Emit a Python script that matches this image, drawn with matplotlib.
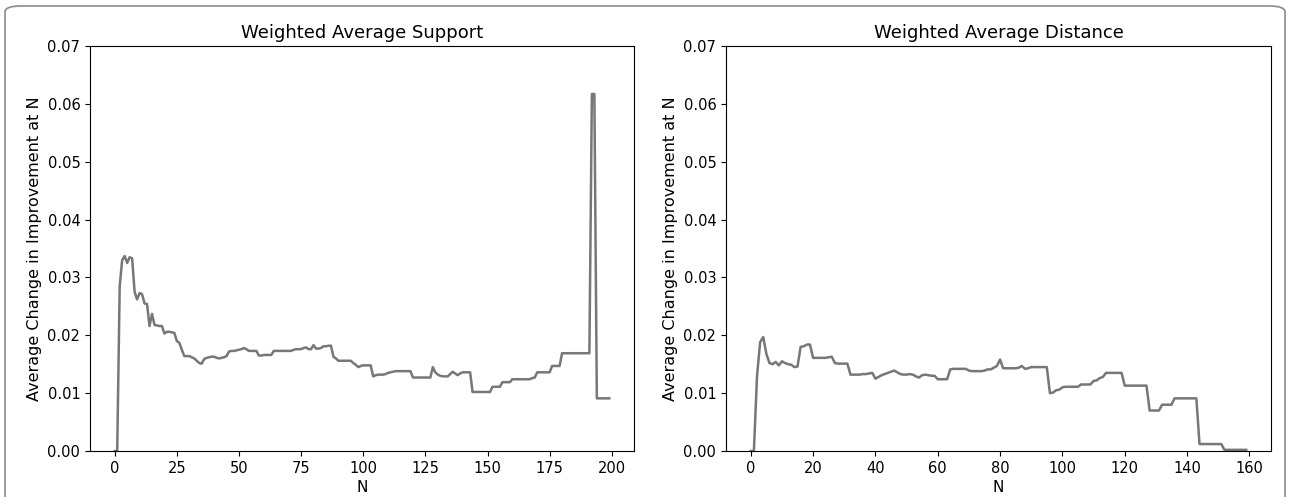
import matplotlib.pyplot as plt
from matplotlib.patches import FancyBboxPatch

# Values
support_n = list(range(200))
support_vals = [
    0.0, 0.0, 0.0285, 0.0330, 0.0337, 0.0325, 0.0335, 0.0333, 0.0275, 0.0262,
    0.0273, 0.0271, 0.0255, 0.0254, 0.0216, 0.0237, 0.0218, 0.0217, 0.0216, 0.0216,
    0.0203, 0.0206, 0.0206, 0.0205, 0.0204, 0.0190, 0.0187, 0.0175, 0.0164, 0.0164,
    0.0164, 0.0162, 0.0160, 0.0156, 0.0152, 0.0151, 0.0159, 0.0161, 0.0162, 0.0163,
    0.0163, 0.0161, 0.0160, 0.0161, 0.0162, 0.0164, 0.0172, 0.0173, 0.0173, 0.0174,
    0.0175, 0.0176, 0.0178, 0.0176, 0.0173, 0.0173, 0.0173, 0.0173, 0.0165, 0.0165,
    0.0166, 0.0166, 0.0166, 0.0166, 0.0173, 0.0173, 0.0173, 0.0173, 0.0173, 0.0173,
    0.0173, 0.0173, 0.0175, 0.0176, 0.0176, 0.0176, 0.0178, 0.0179, 0.0176, 0.0176,
    0.0183, 0.0177, 0.0177, 0.0178, 0.0181, 0.0181, 0.0182, 0.0182, 0.0163, 0.0160,
    0.0156, 0.0156, 0.0156, 0.0156, 0.0156, 0.0156, 0.0152, 0.0149, 0.0145, 0.0147,
    0.0148, 0.0148, 0.0148, 0.0148, 0.0129, 0.0131, 0.0132, 0.0132, 0.0132, 0.0133,
    0.0135, 0.0136, 0.0137, 0.0138, 0.0138, 0.0138, 0.0138, 0.0138, 0.0138, 0.0138,
    0.0127, 0.0127, 0.0127, 0.0127, 0.0127, 0.0127, 0.0127, 0.0127, 0.0145, 0.0136,
    0.0132, 0.0130, 0.0129, 0.0129, 0.0129, 0.0133, 0.0137, 0.0134, 0.0131, 0.0134,
    0.0136, 0.0136, 0.0136, 0.0136, 0.0102, 0.0102, 0.0102, 0.0102, 0.0102, 0.0102,
    0.0102, 0.0102, 0.0111, 0.0111, 0.0111, 0.0111, 0.0119, 0.0119, 0.0119, 0.0119,
    0.0124, 0.0124, 0.0124, 0.0124, 0.0124, 0.0124, 0.0124, 0.0124, 0.0126, 0.0127,
    0.0136, 0.0136, 0.0136, 0.0136, 0.0136, 0.0136, 0.0147, 0.0147, 0.0147, 0.0147,
    0.0169, 0.0169, 0.0169, 0.0169, 0.0169, 0.0169, 0.0169, 0.0169, 0.0169, 0.0169,
    0.0169, 0.0169, 0.0617, 0.0617, 0.0091, 0.0091, 0.0091, 0.0091, 0.0091, 0.0091,
]

distance_n = list(range(160))
distance_vals = [
    0.0, 0.0, 0.0129, 0.0188, 0.0197, 0.0168, 0.0152, 0.0150, 0.0154, 0.0148,
    0.0155, 0.0152, 0.0150, 0.0149, 0.0145, 0.0146, 0.0180, 0.0181, 0.0184, 0.0184,
    0.0161, 0.0161, 0.0161, 0.0161, 0.0161, 0.0162, 0.0163, 0.0152, 0.0151, 0.0151,
    0.0151, 0.0151, 0.0132, 0.0132, 0.0132, 0.0132, 0.0133, 0.0133, 0.0134, 0.0135,
    0.0125, 0.0128, 0.0131, 0.0133, 0.0135, 0.0137, 0.0139, 0.0136, 0.0133, 0.0132,
    0.0132, 0.0133, 0.0132, 0.0129, 0.0127, 0.0131, 0.0132, 0.0131, 0.0130, 0.0130,
    0.0124, 0.0124, 0.0124, 0.0124, 0.0141, 0.0142, 0.0142, 0.0142, 0.0142, 0.0142,
    0.0139, 0.0138, 0.0138, 0.0138, 0.0138, 0.0139, 0.0141, 0.0141, 0.0144, 0.0147,
    0.0158, 0.0143, 0.0143, 0.0143, 0.0143, 0.0143, 0.0144, 0.0147, 0.0142, 0.0143,
    0.0145, 0.0145, 0.0145, 0.0145, 0.0145, 0.0145, 0.0100, 0.0101, 0.0105, 0.0106,
    0.0110, 0.0111, 0.0111, 0.0111, 0.0111, 0.0111, 0.0115, 0.0115, 0.0115, 0.0115,
    0.0121, 0.0122, 0.0126, 0.0128, 0.0135, 0.0135, 0.0135, 0.0135, 0.0135, 0.0135,
    0.0113, 0.0113, 0.0113, 0.0113, 0.0113, 0.0113, 0.0113, 0.0113, 0.0070, 0.0070,
    0.0070, 0.0070, 0.0080, 0.0080, 0.0080, 0.0080, 0.0091, 0.0091, 0.0091, 0.0091,
    0.0091, 0.0091, 0.0091, 0.0091, 0.0012, 0.0012, 0.0012, 0.0012, 0.0012, 0.0012,
    0.0012, 0.0012, 0.0002, 0.0002, 0.0002, 0.0002, 0.0002, 0.0002, 0.0002, 0.0002,
]

titles = ["Weighted Average Support", "Weighted Average Distance"]
y_label = "Average Change in Improvement at N"
x_label = "N"

fig = plt.figure(figsize=(12.9, 4.97), dpi=100)

# Rounded frame around the whole figure
frame = FancyBboxPatch((5 / 1290, -0.05), 1280 / 1290, 1.05 - 6 / 497,
                       boxstyle="round,pad=0,rounding_size=0.012",
                       transform=fig.transFigure, facecolor="none",
                       edgecolor="#8a8a8a", linewidth=1.2)
fig.patches.append(frame)

ax1 = fig.add_axes([90 / 1290, 1 - 451 / 497, 544 / 1290, 405 / 497])
ax2 = fig.add_axes([726 / 1290, 1 - 451 / 497, 545 / 1290, 405 / 497])

for ax, xs, ys, title in [(ax1, support_n, support_vals, titles[0]),
                          (ax2, distance_n, distance_vals, titles[1])]:
    ax.plot(xs, ys, color="#777777", linewidth=1.8)
    ax.set_ylim(0, 0.07)
    ax.set_title(title, fontsize=13)
    ax.set_ylabel(y_label, fontsize=11.5)
    ax.set_xlabel(x_label, fontsize=11, labelpad=3)
    ax.tick_params(labelsize=10.5)

ax1.set_xticks([0, 25, 50, 75, 100, 125, 150, 175, 200])
ax2.set_xticks([0, 20, 40, 60, 80, 100, 120, 140, 160])

fig.savefig("out.png", dpi=100)
